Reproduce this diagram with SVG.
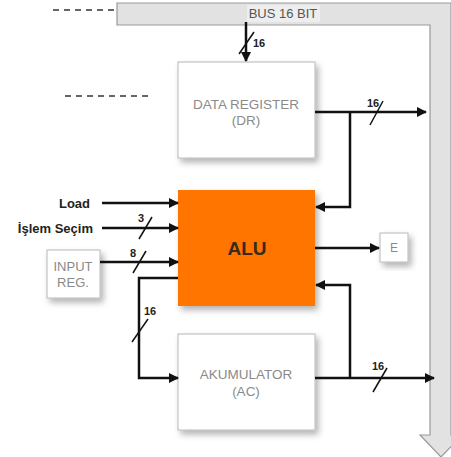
<svg xmlns="http://www.w3.org/2000/svg" width="451" height="457" viewBox="0 0 451 457">
<style>
.box{fill:#fff;stroke:#b8b8b8;stroke-width:1}
.btxt{font-family:"Liberation Sans",Arial,sans-serif;font-size:13.5px;fill:#8a8a8a;text-anchor:middle}
.lbl{font-family:"Liberation Sans",Arial,sans-serif;font-size:13px;font-weight:bold;fill:#222}
.num{font-family:"Liberation Sans",Arial,sans-serif;font-size:11px;font-weight:bold;fill:#222}
.w{stroke:#111;stroke-width:2.5;fill:none}
.sl{stroke:#111;stroke-width:1.5}
.dash{stroke:#333;stroke-width:1.5;stroke-dasharray:6,5}
</style>
<defs>
<marker id="ah" markerWidth="10" markerHeight="10" refX="9" refY="5" orient="auto" markerUnits="userSpaceOnUse">
<path d="M0,0 L10,5 L0,10 Z" fill="#111"/>
</marker>
<filter id="sh" x="-20%" y="-20%" width="150%" height="150%">
<feDropShadow dx="3" dy="4" stdDeviation="3" flood-color="#000" flood-opacity="0.3"/>
</filter>
</defs>
<rect width="451" height="457" fill="#fff"/>
<g id="bus">
<path d="M117,3 H451 V435 H462 L441,457 L420,435 H430 V25 H117 Z" fill="#e2e2e2" stroke="#9a9a9a" stroke-width="1.2"/>
<rect x="247" y="5" width="73" height="17" fill="#eeeeee"/>
<text x="283" y="18" class="btxt" style="fill:#555;font-size:13px">BUS 16 BIT</text>
</g>
<g id="dashes">
<line x1="53" y1="10" x2="117" y2="10" class="dash"/>
<line x1="65" y1="96" x2="153" y2="96" class="dash"/>
</g>
<g id="dr">
<rect x="178" y="62" width="137" height="96" class="box" filter="url(#sh)"/>
<text x="246" y="109" class="btxt">DATA REGISTER</text>
<text x="246" y="125" class="btxt">(DR)</text>
</g>
<g id="alu">
<rect x="178" y="190" width="137" height="116" fill="#ff7400" filter="url(#sh)"/>
<text x="247" y="255" text-anchor="middle" style="font-family:'Liberation Sans',Arial,sans-serif;font-size:19px;font-weight:bold;fill:#3a2a1a">ALU</text>
</g>
<g id="ac">
<rect x="178" y="334" width="137" height="96" class="box" filter="url(#sh)"/>
<text x="246" y="379" class="btxt">AKUMULATOR</text>
<text x="246" y="396" class="btxt">(AC)</text>
</g>
<g id="input">
<rect x="47" y="250" width="53" height="48" class="box" filter="url(#sh)"/>
<text x="73" y="271" class="btxt" style="font-size:13px">INPUT</text>
<text x="73" y="287" class="btxt" style="font-size:13px">REG.</text>
</g>
<g id="e">
<rect x="380" y="233" width="28" height="29" class="box" filter="url(#sh)"/>
<text x="394" y="252" class="btxt" style="font-size:12px">E</text>
</g>
<g id="labels">
<text x="90" y="208" class="lbl" text-anchor="end">Load</text>
<text x="93" y="233" class="lbl" text-anchor="end">İşlem Seçim</text>
</g>
<g id="connectors">
<line x1="246" y1="22" x2="246" y2="61" class="w" marker-end="url(#ah)"/>
<line x1="239" y1="54" x2="254" y2="32" class="sl"/>
<text x="253" y="47" class="num">16</text>

<line x1="315" y1="112" x2="426" y2="112" class="w" marker-end="url(#ah)"/>
<line x1="370" y1="125" x2="383" y2="101" class="sl"/>
<text x="367" y="107" class="num">16</text>
<polyline points="350,112 350,207 316,207" class="w" marker-end="url(#ah)"/>

<line x1="102" y1="203" x2="178" y2="203" class="w" marker-end="url(#ah)"/>
<line x1="102" y1="228" x2="178" y2="228" class="w" marker-end="url(#ah)"/>
<line x1="139" y1="239" x2="152" y2="217" class="sl"/>
<text x="138" y="222" class="num">3</text>
<line x1="100" y1="262" x2="178" y2="262" class="w" marker-end="url(#ah)"/>
<line x1="133" y1="273" x2="146" y2="251" class="sl"/>
<text x="130" y="257" class="num">8</text>

<line x1="315" y1="248" x2="379" y2="248" class="w" marker-end="url(#ah)"/>

<polyline points="178,278 139,278 139,378 178,378" class="w" marker-end="url(#ah)"/>
<line x1="132" y1="342" x2="148" y2="319" class="sl"/>
<text x="144" y="315" class="num">16</text>

<line x1="315" y1="378" x2="434" y2="378" class="w" marker-end="url(#ah)"/>
<line x1="373" y1="392" x2="387" y2="368" class="sl"/>
<text x="372" y="370" class="num">16</text>
<polyline points="350,378 350,285 316,285" class="w" marker-end="url(#ah)"/>
</g>
</svg>
